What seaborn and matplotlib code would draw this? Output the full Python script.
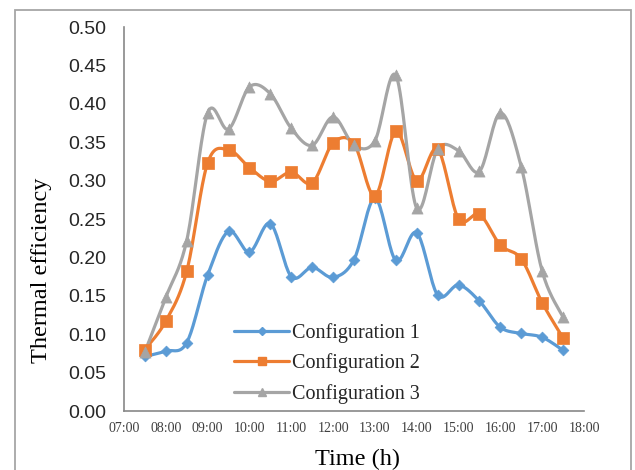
import numpy as np
import pandas as pd
import matplotlib
matplotlib.use("Agg")
import matplotlib.pyplot as plt
import seaborn as sns
from matplotlib.lines import Line2D
from matplotlib.patches import Rectangle

# ---- data ----
times = ["07:30", "08:00", "08:30", "09:00", "09:30", "10:00", "10:30", "11:00",
         "11:30", "12:00", "12:30", "13:00", "13:30", "14:00", "14:30", "15:00",
         "15:30", "16:00", "16:30", "17:00", "17:30"]
config1 = [0.071, 0.078, 0.089, 0.177, 0.234, 0.207, 0.244, 0.175, 0.187, 0.174,
           0.197, 0.277, 0.196, 0.232, 0.151, 0.164, 0.143, 0.109, 0.101, 0.096, 0.079]
config2 = [0.080, 0.117, 0.182, 0.323, 0.340, 0.317, 0.299, 0.311, 0.297, 0.349,
           0.348, 0.280, 0.364, 0.300, 0.341, 0.250, 0.256, 0.216, 0.198, 0.141, 0.095]
config3 = [0.077, 0.148, 0.222, 0.388, 0.367, 0.422, 0.413, 0.368, 0.346, 0.383,
           0.346, 0.352, 0.437, 0.264, 0.341, 0.339, 0.312, 0.388, 0.318, 0.182, 0.122]
series_names = ["Configuration 1", "Configuration 2", "Configuration 3"]
xtick_labels = ["07:00", "08:00", "09:00", "10:00", "11:00", "12:00",
                "13:00", "14:00", "15:00", "16:00", "17:00", "18:00"]
ytick_values = [0.00, 0.05, 0.10, 0.15, 0.20, 0.25, 0.30, 0.35, 0.40, 0.45, 0.50]

colors = ["#5B9BD5", "#ED7D31", "#A5A5A5"]
markers = ["D", "s", "^"]
msizes = [5.5, 8, 8]


def to_hours(t):
    h, m = t.split(":")
    return int(h) + int(m) / 60.0


def smooth(x, y, n=20):
    """Excel-like smoothed line: cubic Bezier through points (Catmull-Rom)."""
    x = np.asarray(x, float)
    y = np.asarray(y, float)
    xs, ys = [], []
    N = len(x)
    for i in range(N - 1):
        p0 = np.array([x[max(i - 1, 0)], y[max(i - 1, 0)]])
        p1 = np.array([x[i], y[i]])
        p2 = np.array([x[i + 1], y[i + 1]])
        p3 = np.array([x[min(i + 2, N - 1)], y[min(i + 2, N - 1)]])
        c1 = p1 + (p2 - p0) / 6.0
        c2 = p2 - (p3 - p1) / 6.0
        t = np.linspace(0, 1, n, endpoint=(i == N - 2))
        b = ((1 - t) ** 3)[:, None] * p1 + (3 * (1 - t) ** 2 * t)[:, None] * c1 + \
            (3 * (1 - t) * t ** 2)[:, None] * c2 + (t ** 3)[:, None] * p2
        xs.extend(b[:, 0])
        ys.extend(b[:, 1])
    return np.array(xs), np.array(ys)


hours = np.array([to_hours(t) for t in times])

sns.set_style("white")
fig = plt.figure(figsize=(6.35, 4.7), dpi=100)
ax = fig.add_axes([124 / 635, 1 - 411 / 470, 460 / 635, 384 / 470])

for vals, name, c, mk, ms in zip([config1, config2, config3], series_names, colors, markers, msizes):
    sx, sy = smooth(hours, vals)
    df_s = pd.DataFrame({"x": sx, "y": sy})
    sns.lineplot(data=df_s, x="x", y="y", ax=ax, color=c, lw=2.3, sort=False,
                 estimator=None, legend=False)
    df_p = pd.DataFrame({"x": hours, "y": vals})
    sns.scatterplot(data=df_p, x="x", y="y", ax=ax, color=c, marker=mk,
                    s=ms ** 2, edgecolor=c, linewidth=0.5, legend=False, zorder=3)

ax.set_xlim(7, 18)
ax.set_ylim(0, 0.5)
ax.set_xticks([to_hours(t) for t in xtick_labels])
ax.set_xticklabels(xtick_labels, fontfamily="Liberation Serif", fontsize=10, color="#404040")
ax.set_yticks(ytick_values)
ax.set_yticklabels([f"{v:.2f}" for v in ytick_values], fontfamily="Liberation Sans",
                   fontsize=14, color="#262626")

for s in ["top", "right"]:
    ax.spines[s].set_visible(False)
for s in ["left", "bottom"]:
    ax.spines[s].set_color("#888888")
    ax.spines[s].set_linewidth(1.2)
ax.tick_params(axis="y", direction="out", length=4.5, width=1.1, color="#888888", pad=8)
ax.tick_params(axis="x", direction="in", length=3.5, width=1.1, color="#888888", pad=8)

ax.set_xlabel("Time (h)", fontfamily="Liberation Serif", fontsize=17.5, color="black")
ax.set_ylabel("Thermal efficiency", fontfamily="Liberation Serif", fontsize=17.5, color="black")
ax.xaxis.set_label_coords(0.507, -0.125)
ax.xaxis.label.set_va("center")
ax.yaxis.set_label_coords(-0.18, 0.367)
ax.yaxis.label.set_va("center")

handles = [Line2D([0], [0], color=c, lw=2.3, marker=mk, markersize=ms * 0.8,
                  markeredgecolor=c) for c, mk, ms in zip(colors, markers, msizes)]
leg = ax.legend(handles, series_names, loc="upper left", bbox_to_anchor=(0.218, 0.255),
                frameon=False, borderpad=0, handlelength=2.7, handletextpad=0.15,
                labelspacing=0.52, prop={"family": "Liberation Serif", "size": 14.5})

fig.patches.append(Rectangle((15 / 635, -0.05), 616 / 635, 1.05 - 10 / 470,
                             transform=fig.transFigure, fill=False,
                             edgecolor="#A6A6A6", lw=1.3))

fig.savefig("out.png", dpi=100)
